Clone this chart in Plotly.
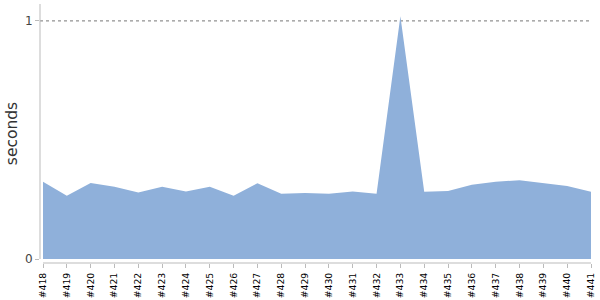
import plotly.graph_objects as go

builds = ["#418", "#419", "#420", "#421", "#422", "#423", "#424", "#425", "#426", "#427", "#428", "#429",
          "#430", "#431", "#432", "#433", "#434", "#435", "#436", "#437", "#438", "#439", "#440", "#441"]
seconds = [0.324, 0.266, 0.319, 0.303, 0.279, 0.303, 0.283, 0.303, 0.266, 0.318, 0.274, 0.277,
           0.274, 0.284, 0.274, 1.02, 0.282, 0.286, 0.312, 0.324, 0.331, 0.318, 0.307, 0.282]

idx = list(range(len(builds)))

fig = go.Figure()
fig.add_trace(go.Scatter(x=idx, y=seconds, mode="lines", fill="tozeroy",
                         line=dict(width=0, color="rgb(143,176,218)"),
                         fillcolor="rgb(143,176,218)", hoverinfo="skip"))

# dotted reference line at 1
fig.add_shape(type="line", xref="paper", yref="y", x0=0, x1=1, y0=1, y1=1,
              line=dict(color="#777", width=1, dash="dot"), layer="below")
# detached axis lines
fig.add_shape(type="line", xref="paper", yref="paper", x0=0, x1=0, y0=0.0155, y1=1,
              line=dict(color="#bbb", width=1), layer="below")
fig.add_shape(type="line", xref="x", yref="paper", x0=0, x1=idx[-1], y0=0, y1=0,
              line=dict(color="#bbb", width=1), layer="below")

fig.update_layout(
    width=600, height=300,
    margin=dict(l=40, r=9, t=4, b=37),
    paper_bgcolor="white", plot_bgcolor="white",
    showlegend=False,
    font=dict(family="DejaVu Sans", color="#000"),
    xaxis=dict(range=[-0.126, 23], tickvals=idx, ticktext=builds, tickangle=-90,
               showgrid=False, zeroline=False, showline=False, automargin=False,
               ticks="outside", ticklen=4, tickcolor="#bbb", ticklabelstandoff=1,
               tickfont=dict(size=9.3, color="#000")),
    yaxis=dict(range=[-0.0168, 1.071], tickvals=[0, 1], ticktext=["0", "1"],
               showgrid=False, zeroline=False, showline=False, automargin=False,
               ticks="outside", ticklen=4, tickcolor="#bbb", tickfont=dict(size=12, color="#444"),
               title=dict(text="seconds", font=dict(size=15.5, color="#333"), standoff=3)),
)

fig.write_html("out.html")
